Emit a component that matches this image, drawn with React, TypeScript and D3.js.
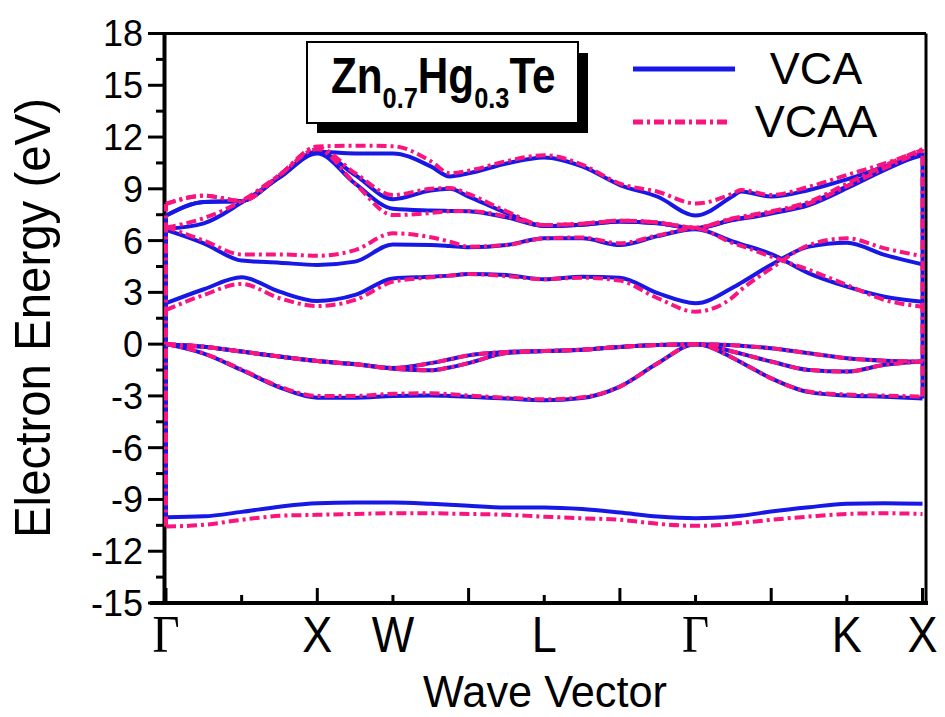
import React from "react";
import * as d3 from "d3";

// k-path positions (Γ=0, X=2, W=3, L=5, Γ=7, K=9, X=10)
const kPath = [0, 0.5, 1, 1.5, 2, 2.5, 3, 3.5, 3.75, 4, 4.5, 5, 5.5, 6, 6.5, 7, 7.5, 7.6, 8, 8.5, 9, 9.5, 10];
const kLabels = ["Γ", "X", "W", "L", "Γ", "K", "X"];
const kLabelPos = [0, 2, 3, 5, 7, 9, 10];
const xTickVals = [0, 1, 2, 3, 4, 5, 6, 7, 8, 9, 10];
const yTickVals = [-15, -12, -9, -6, -3, 0, 3, 6, 9, 12, 15, 18];
const yMinorVals = [-13.5, -10.5, -7.5, -4.5, -1.5, 1.5, 4.5, 7.5, 10.5, 13.5, 16.5];

// VCA bands (eV)
const vcaS = [-10.03, -9.98, -9.72, -9.42, -9.22, -9.18, -9.18, -9.25, -9.3, -9.37, -9.47, -9.47, -9.56, -9.76, -9.99, -10.09, -9.99, -9.95, -9.7, -9.45, -9.25, -9.22, -9.25];
const vcaV1 = [0, -0.55, -1.5, -2.5, -3.1, -3.1, -3.0, -2.97, -3.0, -3.05, -3.15, -3.25, -3.12, -2.46, -1.11, 0, -0.82, -1.05, -1.98, -2.78, -2.98, -3.05, -3.15];
const vcaV2 = [0, -0.15, -0.43, -0.72, -0.98, -1.15, -1.38, -1.1, -0.88, -0.65, -0.45, -0.4, -0.32, -0.16, -0.05, 0, -0.06, -0.09, -0.24, -0.53, -0.82, -0.96, -1.01];
const vcaV3 = [0, -0.15, -0.43, -0.72, -0.98, -1.17, -1.42, -1.52, -1.35, -1.1, -0.52, -0.4, -0.32, -0.16, -0.05, 0, -0.44, -0.55, -1.01, -1.5, -1.59, -1.2, -1.01];
const vcaC1 = [2.37, 3.18, 3.87, 3.04, 2.5, 2.85, 3.81, 3.91, 3.97, 4.06, 4.0, 3.76, 3.91, 3.85, 2.95, 2.37, 3.3, 3.55, 4.6, 5.65, 5.88, 5.17, 4.62];
const vcaC2 = [6.62, 5.84, 4.84, 4.72, 4.59, 4.78, 5.78, 5.74, 5.68, 5.61, 5.74, 6.13, 6.13, 5.74, 6.26, 6.65, 5.94, 5.8, 5.22, 4.1, 3.33, 2.75, 2.46];
const vcaC3 = [6.68, 7.0, 8.2, 9.65, 11.05, 9.3, 7.85, 7.75, 7.72, 7.7, 7.35, 6.85, 6.92, 7.1, 7.0, 6.72, 7.19, 7.26, 7.57, 8.06, 9.03, 10.09, 11.05];
const vcaC4 = [7.45, 8.24, 8.3, 9.7, 11.15, 9.8, 8.4, 8.9, 9.0, 8.55, 7.6, 6.85, 6.92, 7.1, 7.0, 6.72, 7.22, 7.3, 7.62, 8.15, 9.15, 10.2, 11.1];
const vcaC5 = [7.45, 8.24, 8.3, 9.7, 11.15, 11.05, 11.05, 10.3, 9.72, 9.9, 10.47, 10.82, 10.3, 9.22, 8.54, 7.45, 8.6, 8.85, 8.55, 8.93, 9.55, 10.28, 10.96];

// VCAA bands (eV)
const vcaaS = [-10.57, -10.47, -10.18, -9.95, -9.89, -9.84, -9.8, -9.8, -9.82, -9.84, -9.89, -10.0, -10.09, -10.18, -10.41, -10.53, -10.41, -10.36, -10.18, -9.99, -9.84, -9.8, -9.84];
const vcaaV1 = [0, -0.53, -1.47, -2.45, -3.0, -3.0, -2.88, -2.85, -2.9, -2.98, -3.1, -3.2, -3.08, -2.46, -1.11, 0, -0.82, -1.05, -1.98, -2.75, -2.92, -2.98, -3.05];
const vcaaV2 = [0, -0.15, -0.43, -0.72, -0.98, -1.15, -1.38, -1.1, -0.88, -0.65, -0.45, -0.4, -0.32, -0.16, -0.05, 0, -0.06, -0.09, -0.24, -0.53, -0.82, -0.96, -1.01];
const vcaaV3 = [0, -0.15, -0.43, -0.72, -0.98, -1.17, -1.42, -1.52, -1.35, -1.1, -0.52, -0.4, -0.32, -0.16, -0.05, 0, -0.44, -0.55, -1.01, -1.5, -1.59, -1.2, -1.01];
const vcaaC1 = [1.98, 2.85, 3.49, 2.66, 2.21, 2.56, 3.62, 3.87, 3.97, 4.06, 3.95, 3.76, 3.85, 3.68, 2.66, 1.88, 2.75, 3.14, 4.39, 5.74, 6.13, 5.55, 5.1];
const vcaaC2 = [6.8, 6.0, 5.2, 5.2, 5.12, 5.45, 6.42, 6.19, 5.94, 5.65, 5.74, 6.13, 6.18, 5.84, 6.3, 6.7, 5.84, 5.7, 5.07, 4.3, 3.43, 2.56, 2.17];
const vcaaC3 = [6.75, 7.3, 8.3, 9.8, 11.3, 9.3, 7.48, 7.6, 7.7, 7.72, 7.4, 6.9, 6.98, 7.15, 7.05, 6.75, 7.25, 7.3, 7.65, 8.15, 9.15, 10.2, 11.2];
const vcaaC4 = [8.12, 8.6, 8.3, 9.8, 11.4, 9.9, 8.64, 9.0, 9.05, 8.7, 7.7, 6.9, 6.98, 7.15, 7.05, 6.75, 7.3, 7.38, 7.7, 8.25, 9.3, 10.35, 11.3];
const vcaaC5 = [8.12, 8.6, 8.3, 9.8, 11.45, 11.5, 11.47, 10.6, 9.9, 10.05, 10.6, 10.95, 10.4, 9.3, 8.83, 8.15, 8.74, 8.93, 8.64, 9.12, 9.8, 10.47, 11.25];

const seriesNames = ["VCA", "VCAA"];
const seriesColors = ["#1818e6", "#fa147f"];
const seriesDash = [null, "10,4,3,4"];
const seriesBands = [
  [vcaS, vcaV1, vcaV2, vcaV3, vcaC1, vcaC2, vcaC3, vcaC4, vcaC5],
  [vcaaS, vcaaV1, vcaaV2, vcaaV3, vcaaC1, vcaaC2, vcaaC3, vcaaC4, vcaaC5],
];

const W = 945;
const H = 717;
const x = d3.scaleLinear().domain([0, 10]).range([166, 922.5]);
const y = d3.scaleLinear().domain([-15, 18]).range([603, 33.5]);
const SANS = "'Liberation Sans', Arial, Helvetica, sans-serif";
const SERIF = "'Liberation Serif', 'Times New Roman', serif";

export default function App() {
  const line = d3
    .line<number>()
    .x((_, i) => x(kPath[i]))
    .y((d) => y(d))
    .curve(d3.curveMonotoneX);

  const last = kPath.length - 1;

  return (
    <svg width={W} height={H} style={{ position: "absolute", left: 0, top: 0, background: "#fff" }}>
      {/* frame */}
      <line x1={164.5} x2={926} y1={33.5} y2={33.5} stroke="#000" strokeWidth={3} />
      <line x1={926} x2={926} y1={33.5} y2={603} stroke="#000" strokeWidth={3} />
      <line x1={164.5} x2={164.5} y1={32} y2={605} stroke="#000" strokeWidth={4} />
      <line x1={150} x2={928} y1={603} y2={603} stroke="#000" strokeWidth={4} />

      {/* y ticks */}
      {yTickVals.map((v) => (
        <g key={"yt" + v}>
          <line x1={148} x2={164} y1={y(v)} y2={y(v)} stroke="#000" strokeWidth={3} />
          <text x={143} y={y(v)} dy="0.36em" textAnchor="end" fontFamily={SANS} fontSize={36}>
            {v}
          </text>
        </g>
      ))}
      {yMinorVals.map((v) => (
        <line key={"ym" + v} x1={156} x2={164} y1={y(v)} y2={y(v)} stroke="#000" strokeWidth={3} />
      ))}

      {/* x ticks */}
      {xTickVals.map((v) => (
        <line
          key={"xt" + v}
          x1={x(v)}
          x2={x(v)}
          y1={603}
          y2={v % 2 === 0 ? 588 : 595}
          stroke="#000"
          strokeWidth={3}
        />
      ))}
      {kLabels.map((lab, i) => (
        <text
          key={"kl" + i}
          transform={`translate(${x(kLabelPos[i])},652) scale(0.9,1)`}
          textAnchor="middle"
          fontFamily={lab === "Γ" ? SERIF : SANS}
          fontSize={lab === "Γ" ? 52 : 50}
        >
          {lab}
        </text>
      ))}

      {/* axis titles */}
      <text
        x={545}
        y={707}
        textAnchor="middle"
        fontFamily={SANS}
        fontSize={44}
        textLength={244}
        lengthAdjust="spacingAndGlyphs"
      >
        Wave Vector
      </text>
      <text
        transform="translate(50,318) rotate(-90)"
        textAnchor="middle"
        fontFamily={SANS}
        fontSize={50}
        textLength={440}
        lengthAdjust="spacingAndGlyphs"
      >
        Electron Energy (eV)
      </text>

      {/* bands */}
      {seriesBands.map((bands, si) => (
        <g key={"s" + si} fill="none" stroke={seriesColors[si]} strokeWidth={4} strokeDasharray={seriesDash[si] ?? undefined}>
          {bands.map((b, bi) => (
            <path key={bi} d={line(b) ?? ""} />
          ))}
          <path
            d={`M${x(0)},${y(d3.min(bands, (b) => b[0]) as number)}V${y(d3.max(bands, (b) => b[0]) as number)}`}
          />
          <path d={`M${x(10)},${y(bands[1][last])}V${y(d3.max(bands, (b) => b[last]) as number)}`} />
        </g>
      ))}

      {/* formula box */}
      <rect x={317} y={53} width={271} height={80} fill="#000" />
      <rect x={307} y={42} width={271} height={81} fill="#fff" stroke="#000" strokeWidth={2} />
      <text transform="translate(331,93) scale(0.845,1)" fontFamily={SANS} fontWeight="bold" fontSize={50}>
        <tspan>Zn</tspan>
        <tspan fontSize={30} dy={15}>0.7</tspan>
        <tspan dy={-15}>Hg</tspan>
        <tspan fontSize={30} dy={15}>0.3</tspan>
        <tspan dy={-15}>Te</tspan>
      </text>

      {/* legend */}
      {seriesNames.map((n, i) => (
        <g key={"lg" + i}>
          <line
            x1={633}
            x2={i === 0 ? 735 : 730}
            y1={69 + i * 53}
            y2={69 + i * 53}
            stroke={seriesColors[i]}
            strokeWidth={5}
            strokeDasharray={seriesDash[i] ?? undefined}
          />
          <text x={816} y={84 + i * 53} textAnchor="middle" fontFamily={SANS} fontSize={45}>
            {n}
          </text>
        </g>
      ))}
    </svg>
  );
}
